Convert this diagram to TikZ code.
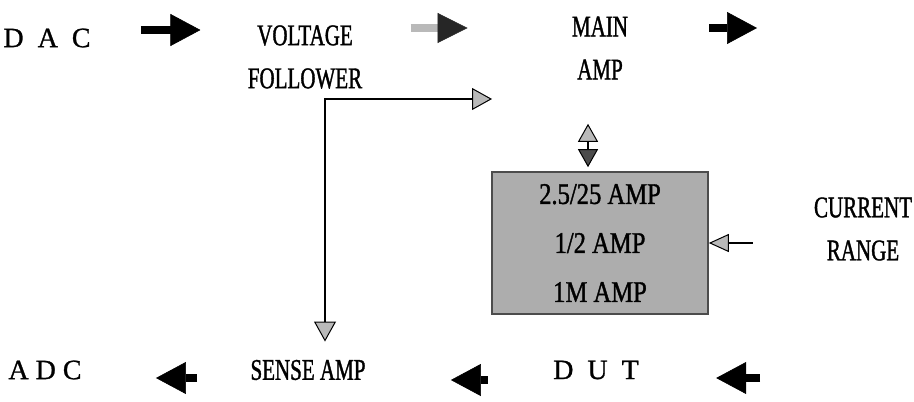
\documentclass[tikz,border=0pt]{standalone}
\usepackage{fontspec}
\setmainfont[FakeStretch=0.7,FakeBold=1.2]{Liberation Serif}
\newfontfamily\widefont[FakeBold=1]{Liberation Serif}
\newfontfamily\boxfont[FakeStretch=0.82,FakeBold=1.2]{Liberation Serif}
\usetikzlibrary{positioning,arrows.meta}

\begin{document}
\begin{tikzpicture}[x=0.5pt,y=-0.5pt,
  lbl/.style={align=center,inner sep=2pt,font=\fontsize{15}{21.5}\selectfont},
  wlbl/.style={inner sep=2pt,font=\widefont\fontsize{14}{16}\selectfont},
  rngbox/.style={draw=black!70,line width=0.8pt,fill=black!32,minimum width=108pt,minimum height=71pt,
    align=center,font=\boxfont\fontsize{15}{24.5}\selectfont},
  blk/.style={line width=4pt,-{Triangle[length=15pt,width=16pt,line width=0.3pt]}},
  gblk/.style={line width=4pt,draw=gray!55,-{Triangle[length=15pt,width=15pt,line width=0.3pt,color=black!85]}},
  fbk/.style={line width=0.6pt,{Triangle[length=10pt,width=11pt,line width=0.5pt,fill=gray!55]}-{Triangle[length=10pt,width=11pt,line width=0.5pt,fill=gray!55]}},
  dbl/.style={line width=0.6pt,{Triangle[length=9pt,width=10pt,line width=0.5pt,fill=gray!55]}-{Triangle[length=9pt,width=10pt,line width=0.5pt,fill=black!70]}},
  thn/.style={line width=0.6pt,-{Triangle[length=10pt,width=9pt,line width=0.5pt,fill=gray!55]}}]
\useasboundingbox (0,0) rectangle (914,401);

% top row
\node[wlbl] (dac) at (47,38) {D\ \ A\ \ C};
\node[lbl] (vf) at (305,57) {VOLTAGE\\FOLLOWER};
\node[lbl] (main) at (600,48) {MAIN\\AMP};
\coordinate (out) at (757,28);

% range box
\node[rngbox] (rng) at (600,243) {2.5/25 AMP\\1/2 AMP\\1M AMP};
\node[lbl] (cur) at (863,229) {CURRENT\\RANGE};

% bottom row
\node[wlbl] (adc) at (45,370) {A D C};
\node[lbl] (sense) at (308,370) {SENSE AMP};
\node[wlbl] (dut) at (596,370) {D\ \ U\ \ T};
\coordinate (in) at (760,378);

\coordinate (fb) at (492,99);
\coordinate (fbc) at (325,99);

\draw[blk,shorten <=23pt,shorten >=21.5pt] ([yshift=4pt]dac.east) -- ([yshift=4pt]dac.east -| vf.west);
\draw[gblk,shorten <=22pt,shorten >=50pt] ([yshift=14.5pt]vf.east) -- ([yshift=14.5pt]vf.east -| main.west);
\draw[blk,shorten <=38.5pt] (main.east |- out) -- (out);
\draw[dbl,shorten <=20pt,shorten >=2pt] ([xshift=-6pt]main.south) -- ([xshift=-6pt]rng.north);
\draw[thn,shorten <=28.5pt] (cur.west |- rng.east) -- (rng.east);
\draw[fbk,shorten <=7pt] (fbc |- sense.north) -- (fbc) -- (fb);

\draw[blk,shorten >=36.5pt] (in) -- (in -| dut.east);
\draw[blk,shorten <=30.5pt,shorten >=40.5pt] ([yshift=-5pt]dut.west) -- ([yshift=-5pt]dut.west -| sense.east);
\draw[blk,shorten <=24.5pt,shorten >=35pt] ([yshift=-4pt]sense.west) -- ([yshift=-4pt]sense.west -| adc.east);
\end{tikzpicture}
\end{document}
